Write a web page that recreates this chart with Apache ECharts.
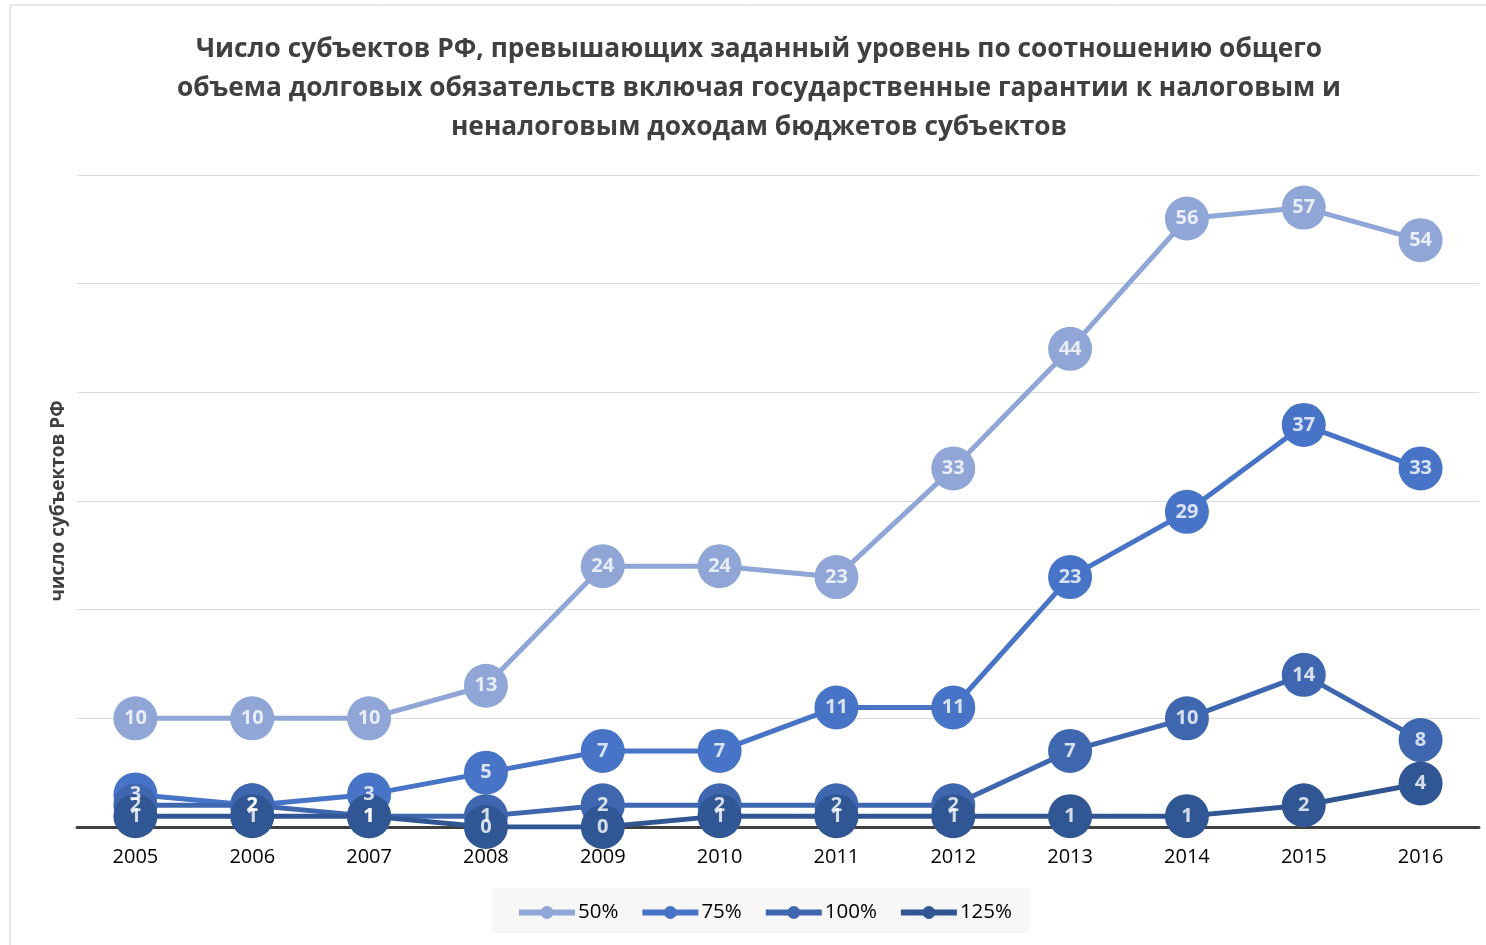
<!DOCTYPE html>
<html><head><meta charset="utf-8">
<script src="https://cdn.jsdelivr.net/npm/echarts@6/dist/echarts.min.js"></script>
<style>html,body{margin:0;padding:0;background:#fff}#c{width:1486px;height:945px}</style>
</head><body><div id="c"></div>
<script>
const years = ['2005','2006','2007','2008','2009','2010','2011','2012','2013','2014','2015','2016'];
const s50  = [10,10,10,13,24,24,23,33,44,56,57,54];
const s75  = [3,2,3,5,7,7,11,11,23,29,37,33];
const s100 = [2,2,1,1,2,2,2,2,7,10,14,8];
const s125 = [1,1,1,0,0,1,1,1,1,1,2,4];
const names = ['50%','75%','100%','125%'];
const colors = ['#8FA6D7','#4774C6','#3E67AF','#305694'];
const data = [s50,s75,s100,s125];

const lineSeries = names.map((n,i)=>({
  name:n, type:'line', data:data[i],
  symbol:'circle', symbolSize:44,
  lineStyle:{color:colors[i],width:5},
  itemStyle:{color:colors[i]},
  label:{show:false},
  z:2+i
}));
const labelSeries = names.map((n,i)=>({
  name:n+'_lbl', type:'scatter', data:data[i],
  symbol:'circle', symbolSize:1,
  itemStyle:{color:'rgba(0,0,0,0)'},
  label:{show:true,position:'inside',color:'#fff',fontFamily:'Open Sans',fontWeight:'bold',fontSize:20},
  silent:true, z:10+i
}));

const chart = echarts.init(document.getElementById('c'));
chart.setOption({
  animation:false,
  title:{
    text:'Число субъектов РФ, превышающих заданный уровень по соотношению общего\nобъема долговых обязательств включая государственные гарантии к налоговым и\nненалоговым доходам бюджетов субъектов',
    left:754, top:25, textAlign:'center',
    textStyle:{fontFamily:'Open Sans',fontWeight:'bold',fontSize:26.3,color:'#404040',lineHeight:39}
  },
  graphic:[{type:'rect',shape:{x:10,y:5,width:1500,height:1000},style:{fill:'none',stroke:'#d0d0d0',lineWidth:1},silent:true,z:-10},
           {type:'rect',shape:{x:492,y:888,width:538,height:45},style:{fill:'#f7f7f7'},silent:true,z:-5}],
  legend:{
    data:names, top:897, left:511, itemWidth:56, itemHeight:16, itemGap:21,
    lineStyle:{width:6},
    textStyle:{fontFamily:'Open Sans',fontSize:20.5,color:'#000',padding:[0,0,0,-2]}
  },
  grid:{left:77,right:7,top:175,bottom:118},
  xAxis:{
    type:'category', data:years, boundaryGap:true,
    axisLine:{lineStyle:{color:'#404040',width:3}},
    axisTick:{show:false},
    axisLabel:{fontFamily:'Open Sans',fontSize:20,color:'#000',margin:20}
  },
  yAxis:{
    type:'value', min:0, max:60, interval:10,
    name:'число субъектов РФ', nameLocation:'middle', nameGap:9, nameRotate:90,
    nameTextStyle:{fontFamily:'Open Sans',fontWeight:'bold',fontSize:19,color:'#404040'},
    axisLabel:{show:false}, axisLine:{show:false}, axisTick:{show:false},
    splitLine:{lineStyle:{color:'#d9d9d9',width:1}}
  },
  series: lineSeries.concat(labelSeries)
});
</script></body></html>
